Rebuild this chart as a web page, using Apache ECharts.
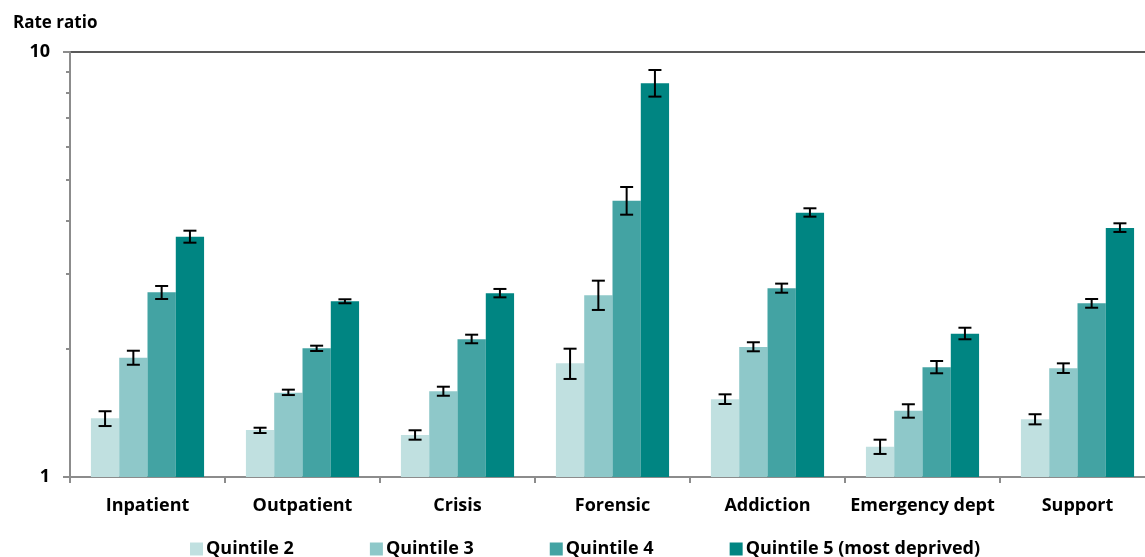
<!DOCTYPE html>
<html>
<head>
<meta charset="utf-8">
<script src="https://cdn.jsdelivr.net/npm/echarts@6/dist/echarts.min.js"></script>
<style>
  html, body { margin: 0; padding: 0; background: #fff; }
  #chart { width: 1145px; height: 557px; }
</style>
</head>
<body>
<div id="chart"></div>
<script>
// Service categories along the x axis
var categories = ['Inpatient', 'Outpatient', 'Crisis', 'Forensic', 'Addiction', 'Emergency dept', 'Support'];
var seriesNames = ['Quintile 2', 'Quintile 3', 'Quintile 4', 'Quintile 5 (most deprived)'];

// Rate ratios (vs quintile 1) per service
var q2 = [1.374, 1.290, 1.255, 1.851, 1.523, 1.178, 1.367];
var q3 = [1.909, 1.579, 1.591, 2.677, 2.022, 1.432, 1.803];
var q4 = [2.720, 2.008, 2.109, 4.467, 2.780, 1.812, 2.563];
var q5 = [3.677, 2.591, 2.706, 8.443, 4.187, 2.174, 3.854];

// 95% confidence intervals: lower and upper bounds
var q2Low = [1.318, 1.269, 1.224, 1.701, 1.485, 1.133, 1.330];
var q2High = [1.428, 1.306, 1.288, 2.004, 1.565, 1.224, 1.405];
var q3Low = [1.837, 1.559, 1.553, 2.472, 1.976, 1.379, 1.757];
var q3High = [1.982, 1.605, 1.631, 2.897, 2.075, 1.483, 1.851];
var q4Low = [2.623, 1.979, 2.064, 4.142, 2.714, 1.754, 2.502];
var q4High = [2.815, 2.037, 2.162, 4.813, 2.851, 1.875, 2.623];
var q5Low = [3.559, 2.563, 2.647, 7.853, 4.098, 2.109, 3.772];
var q5High = [3.798, 2.619, 2.770, 9.071, 4.288, 2.245, 3.953];

// Y axis labels
var yTickLabels = [1, 10];

var colors = ['#c0e0e0', '#8ec8c9', '#43a3a3', '#008582'];
var FONT = '"Open Sans", Lato, sans-serif';
var FS = 18;
var CAT_GAP = 0.27;

var values = [q2, q3, q4, q5];
var lows = [q2Low, q3Low, q4Low, q5Low];
var highs = [q2High, q3High, q4High, q5High];

var errorData = [];
for (var s = 0; s < values.length; s++) {
  for (var c = 0; c < categories.length; c++) {
    errorData.push([c, s, lows[s][c], highs[s][c]]);
  }
}

var barSeries = seriesNames.map(function (name, i) {
  return {
    name: name,
    type: 'bar',
    data: values[i],
    barGap: '0%',
    barCategoryGap: (CAT_GAP * 100) + '%',
    itemStyle: { color: colors[i] },
    emphasis: { disabled: true },
    z: 2
  };
});

var errorSeries = {
  type: 'custom',
  name: 'ci',
  data: errorData,
  encode: { x: 0, y: [2, 3] },
  z: 5,
  silent: true,
  renderItem: function (params, api) {
    var cat = api.value(0);
    var s = api.value(1);
    var lo = api.coord([cat, api.value(2)]);
    var hi = api.coord([cat, api.value(3)]);
    var bandW = api.size([1, 0])[0];
    var barW = bandW * (1 - CAT_GAP) / 4;
    var x = lo[0] - 2 * barW + (s + 0.5) * barW;
    var cap = 6.5;
    var style = { stroke: '#000', lineWidth: 2, fill: null };
    return {
      type: 'group',
      children: [
        { type: 'line', shape: { x1: x, y1: lo[1], x2: x, y2: hi[1] }, style: style },
        { type: 'line', shape: { x1: x - cap, y1: lo[1], x2: x + cap, y2: lo[1] }, style: style },
        { type: 'line', shape: { x1: x - cap, y1: hi[1], x2: x + cap, y2: hi[1] }, style: style }
      ]
    };
  }
};

var chart = echarts.init(document.getElementById('chart'), null, { renderer: 'canvas' });
chart.setOption({
  animation: false,
  backgroundColor: '#fff',
  textStyle: { fontFamily: FONT },
  title: {
    text: 'Rate ratio',
    left: 8,
    top: 10,
    textStyle: { fontFamily: FONT, fontSize: 17, fontWeight: 'bold', color: '#000' }
  },
  grid: { left: 70, width: 1085, top: 52, height: 425, containLabel: false, outerBoundsMode: 'none' },
  legend: {
    data: seriesNames,
    left: 185,
    top: 535,
    itemWidth: 13,
    itemHeight: 13,
    itemGap: 76,
    icon: 'rect',
    selectedMode: false,
    textStyle: { fontFamily: FONT, fontSize: FS, fontWeight: 'bold', color: '#000', padding: [0, 0, 0, -2] }
  },
  xAxis: {
    type: 'category',
    data: categories,
    axisLine: { lineStyle: { color: '#8c8c8c', width: 2 } },
    axisTick: { show: true, length: 6, lineStyle: { color: '#8c8c8c', width: 2 } },
    axisLabel: { fontFamily: FONT, fontSize: FS, fontWeight: 'bold', color: '#000', margin: 20, interval: 0 },
    splitLine: { show: false }
  },
  yAxis: {
    type: 'log',
    logBase: 10,
    min: yTickLabels[0],
    max: yTickLabels[yTickLabels.length - 1],
    axisLine: { show: true, lineStyle: { color: '#8c8c8c', width: 2 } },
    axisTick: { show: true, length: 7, lineStyle: { color: '#8c8c8c', width: 2 } },
    minorTick: { show: true, splitNumber: 9, length: 4, lineStyle: { color: '#8c8c8c', width: 2 } },
    minorSplitLine: { show: false },
    axisLabel: { fontFamily: FONT, fontSize: FS, fontWeight: 'bold', color: '#000', margin: 20 },
    splitLine: { show: true, lineStyle: { color: '#595959', width: 2 } }
  },
  series: barSeries.concat([errorSeries])
});
</script>
</body>
</html>
